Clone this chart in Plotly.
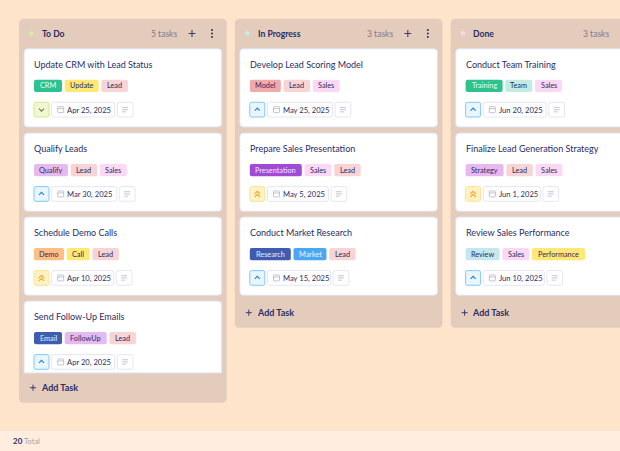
import plotly.graph_objects as go

# board data
columns = ['To Do', 'In Progress', 'Done']
task_counts = ['5 tasks', '3 tasks', '3 tasks']

titles = [
    ['Update CRM with Lead Status', 'Qualify Leads', 'Schedule Demo Calls', 'Send Follow-Up Emails'],
    ['Develop Lead Scoring Model', 'Prepare Sales Presentation', 'Conduct Market Research'],
    ['Conduct Team Training', 'Finalize Lead Generation Strategy', 'Review Sales Performance'],
]
tags = [
    [['CRM', 'Update', 'Lead'], ['Qualify', 'Lead', 'Sales'], ['Demo', 'Call', 'Lead'], ['Email', 'FollowUp', 'Lead']],
    [['Model', 'Lead', 'Sales'], ['Presentation', 'Sales', 'Lead'], ['Research', 'Market', 'Lead']],
    [['Training', 'Team', 'Sales'], ['Strategy', 'Lead', 'Sales'], ['Review', 'Sales', 'Performance']],
]
dates = [
    ['Apr 25, 2025', 'Mar 30, 2025', 'Apr 10, 2025', 'Apr 20, 2025'],
    ['May 25, 2025', 'May 5, 2025', 'May 15, 2025'],
    ['Jun 20, 2025', 'Jun 1, 2025', 'Jun 10, 2025'],
]
priorities = [
    ['low', 'medium', 'high', 'medium'],
    ['medium', 'high', 'medium'],
    ['medium', 'high', 'medium'],
]
total_count = '20'
total_label = 'Total'

# styles
FONT = 'Lato'
INK = '#2A2C63'
MUTED = '#85798A'
BG = '#FFE4CC'
COL_BG = '#E3CCBC'
FOOT_BG = '#FFEEDF'
CARD_LINE = '#DFDFF2'

dot_colors = ['#D5EE9E', '#C6EEE8', '#F8D8E0']
tag_style = {
    'CRM': ('#2EC28F', '#E4FFF5', 28), 'Update': ('#FFE873', INK, 34), 'Lead': ('#F9D4D4', INK, 26.5),
    'Qualify': ('#E8B8F0', INK, 34), 'Sales': ('#FBD9F5', INK, 27), 'Demo': ('#FFBE85', INK, 30),
    'Call': ('#FFE873', INK, 23), 'Email': ('#3F5CAE', '#E8EEFF', 28), 'FollowUp': ('#E3BBF0', INK, 42),
    'Model': ('#F2A9A9', INK, 31), 'Presentation': ('#A04BD6', '#F6E8FF', 52),
    'Research': ('#3F5CAE', '#E8EEFF', 41), 'Market': ('#4BA8F0', '#E8F5FF', 33),
    'Training': ('#2EC28F', '#E4FFF5', 37), 'Team': ('#C2EBE2', INK, 27), 'Strategy': ('#E8B8F0', INK, 38),
    'Review': ('#C5E8EE', INK, 34), 'Performance': ('#FFE873', INK, 53),
}
prio_style = {
    'low': ('#F1F7D2', '#CFEC8E', '#7D7A45'),
    'medium': ('#E9F6FF', '#82C8FA', '#1F86DC'),
    'high': ('#FFF3C6', '#FFE28F', '#F5A623'),
}
date_w = {
    'Apr 25, 2025': 63, 'Mar 30, 2025': 65, 'Apr 10, 2025': 62, 'Apr 20, 2025': 63, 'May 25, 2025': 65,
    'May 5, 2025': 61, 'May 15, 2025': 63, 'Jun 20, 2025': 63, 'Jun 1, 2025': 57, 'Jun 10, 2025': 61,
}
col_bottom = [402.7, 327.7, 327.7]
card_tops = [48.7, 133, 217, 301]
CARD_H = 78.3
COL_STEP = 215.8

shapes = []
texts = []


def rrect(x0, y0, x1, y1, r, fill, line=None, lw=1, square_bottom=False):
    if square_bottom:
        path = (f'M{x0},{y1} L{x0},{y0+r} Q{x0},{y0} {x0+r},{y0} L{x1-r},{y0} '
                f'Q{x1},{y0} {x1},{y0+r} L{x1},{y1} Z')
    else:
        path = (f'M{x0+r},{y0} L{x1-r},{y0} Q{x1},{y0} {x1},{y0+r} L{x1},{y1-r} Q{x1},{y1} {x1-r},{y1} '
                f'L{x0+r},{y1} Q{x0},{y1} {x0},{y1-r} L{x0},{y0+r} Q{x0},{y0} {x0+r},{y0} Z')
    shapes.append(dict(type='path', path=path, xref='x', yref='y', fillcolor=fill,
                       line=dict(color=line or 'rgba(0,0,0,0)', width=lw if line else 0)))


def stroke(path, color, lw=1.0):
    shapes.append(dict(type='path', path=path, xref='x', yref='y',
                       fillcolor='rgba(0,0,0,0)', line=dict(color=color, width=lw)))


def label(x, y, text, size=9, color=INK, anchor='left', bold=False):
    if bold:
        text = f'<b>{text}</b>'
    texts.append(dict(x=x, y=y, xref='x', yref='y', text=text, showarrow=False, xanchor=anchor,
                      yanchor='middle', borderpad=0, borderwidth=0, font=dict(family=FONT, size=size, color=color)))


def plus(cx, cy, s, color, lw=1.1):
    stroke(f'M{cx-s},{cy} L{cx+s},{cy} M{cx},{cy-s} L{cx},{cy+s}', color, lw)


rrect(0, 431, 620, 451, 0, FOOT_BG)
label(12.5, 441, total_count, 8, INK, bold=True)
label(24, 441, total_label, 7.5, '#A99DA8')

for c, name in enumerate(columns):
    dx = c * COL_STEP
    rrect(19 + dx, 18.7, 226.7 + dx, col_bottom[c], 5, COL_BG)
    shapes.append(dict(type='circle', xref='x', yref='y', x0=29 + dx, x1=33.5 + dx, y0=31, y1=35.5,
                       fillcolor=dot_colors[c], line=dict(width=0)))
    label(41.7 + dx, 33.5, name, 8.6, INK, bold=True)
    label(151 + dx, 33.5, task_counts[c], 8.5, MUTED)
    plus(192 + dx, 33.5, 3.4, '#3B3C6E')
    for ky in (30, 33.5, 37):
        shapes.append(dict(type='circle', xref='x', yref='y', x0=211 + dx, x1=213 + dx, y0=ky - 1, y1=ky + 1,
                           fillcolor=INK, line=dict(width=0)))

    for i, title in enumerate(titles[c]):
        top = card_tops[i]
        bottom = top + CARD_H
        clipped = bottom > col_bottom[c] - 25
        if clipped:
            bottom = col_bottom[c] - 29.7
        rrect(24 + dx, top, 221.7 + dx, bottom, 3.5, '#FFFFFF', CARD_LINE, 1, square_bottom=clipped)
        label(34 + dx, top + 15.5, title, 9, INK)

        x = 34 + dx
        for tag in tags[c][i]:
            fill, fg, w = tag_style[tag]
            rrect(x, top + 31, x + w, top + 43.3, 2, fill)
            label(x + w / 2, top + 37.2, tag, 7.3, fg, anchor='center')
            x += w + 2.7

        # priority button
        y0, y1 = top + 53.6, top + 68.3
        fill, edge, arrow = prio_style[priorities[c][i]]
        rrect(34 + dx, y0, 49 + dx, y1, 2, fill, edge, 1)
        cx, cy = 41.5 + dx, (y0 + y1) / 2
        if priorities[c][i] == 'low':
            stroke(f'M{cx-2.5},{cy-1} L{cx},{cy+1.5} L{cx+2.5},{cy-1}', arrow, 1.1)
        elif priorities[c][i] == 'medium':
            stroke(f'M{cx-2.5},{cy+1} L{cx},{cy-1.5} L{cx+2.5},{cy+1}', arrow, 1.2)
        else:
            stroke(f'M{cx-2.7},{cy} L{cx},{cy-2.7} L{cx+2.7},{cy}', arrow, 1.2)
            stroke(f'M{cx-2.7},{cy+3} L{cx},{cy+0.3} L{cx+2.7},{cy+3}', arrow, 1.2)

        # date pill with calendar icon
        date = dates[c][i]
        px0 = 51.7 + dx
        px1 = px0 + date_w[date]
        rrect(px0, y0, px1, y1, 2, '#FFFFFF', '#E6E6F4', 1)
        rrect(px0 + 6, cy - 3, px0 + 12, cy + 3, 0.8, 'rgba(0,0,0,0)', '#B4B4C8', 0.8)
        stroke(f'M{px0+6},{cy-1} L{px0+12},{cy-1}', '#B4B4C8', 0.8)
        label(px0 + 15.5, cy, date, 7.6, INK)

        # notes button
        nx0 = px1 + 2.6
        rrect(nx0, y0, nx0 + 15.7, y1, 2, '#FFFFFF', '#E6E6F4', 1)
        nc = nx0 + 7.8
        stroke(f'M{nc-3},{cy-2.2} L{nc+3},{cy-2.2} M{nc-3},{cy} L{nc+3},{cy} M{nc-3},{cy+2.2} L{nc+1},{cy+2.2}',
               '#BDBDCF', 0.9)

    add_y = col_bottom[c] - 15
    plus(33 + dx, add_y, 3, '#3B3C6E', 1.0)
    label(40.7 + dx, add_y, 'Add Task', 9, INK, bold=True)

fig = go.Figure()
fig.update_layout(
    width=620, height=451,
    margin=dict(l=0, r=0, t=0, b=0),
    paper_bgcolor=BG,
    plot_bgcolor=BG,
    showlegend=False,
    shapes=shapes,
    annotations=texts,
)
fig.update_xaxes(range=[0, 620], visible=False, fixedrange=True)
fig.update_yaxes(range=[451, 0], visible=False, fixedrange=True)
# default body margin would push the board 8px in
fig.write_html('out.html', config=dict(displayModeBar=False),
               post_script="document.body.style.margin='0';document.body.style.overflow='hidden';")
